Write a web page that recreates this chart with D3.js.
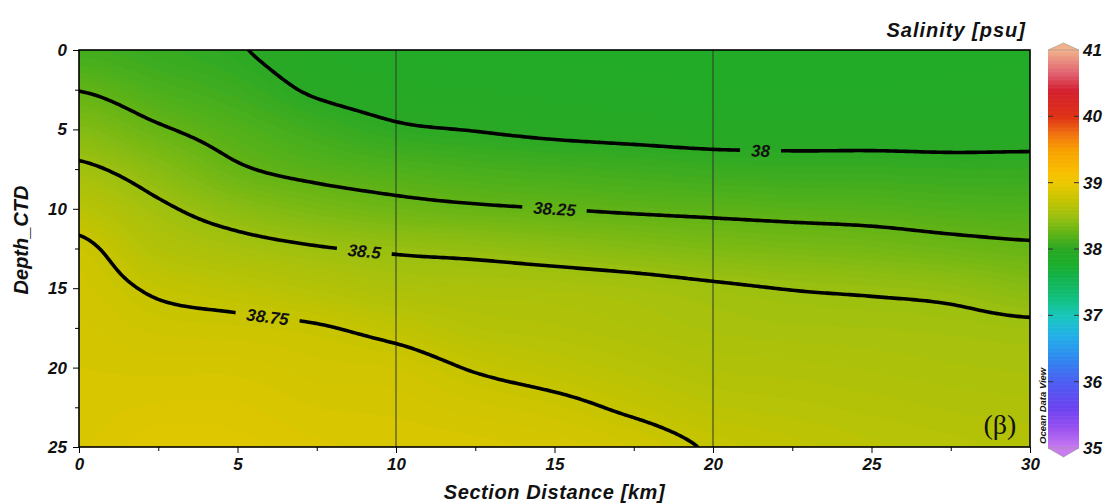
<!DOCTYPE html>
<html>
<head>
<meta charset="utf-8">
<title>Salinity section</title>
<script src="https://cdn.jsdelivr.net/npm/d3@7"></script>
<style>
  body { margin: 0; background: #fff; }
  svg text { font-family: "Liberation Sans", Arial, sans-serif; font-weight: bold; font-style: italic; fill: #111; }
</style>
</head>
<body>
<div id="chart"></div>
<script>
// gridded section: station distances (km) and depths (m)
var distances = [0, 2.5, 5, 7.5, 10, 12.5, 15, 17.5, 20, 22.5, 25, 27.5, 30];
var depths = [0, 2.5, 5, 7.5, 10, 12.5, 15, 17.5, 20, 22.5, 25];
// salinity [psu], one row per depth, one column per distance
var salinity = [
  [38.11, 38.06, 38.01, 37.93, 37.90, 37.88, 37.87, 37.86, 37.85, 37.85, 37.85, 37.86, 37.87],
  [38.245, 38.15, 38.08, 37.98, 37.94, 37.925, 37.91, 37.90, 37.88, 37.88, 37.88, 37.89, 37.90],
  [38.39, 38.27, 38.175, 38.09, 38.02, 37.995, 37.97, 37.955, 37.94, 37.94, 37.94, 37.94, 37.945],
  [38.53, 38.41, 38.27, 38.20, 38.16, 38.13, 38.11, 38.09, 38.07, 38.06, 38.06, 38.05, 38.05],
  [38.67, 38.53, 38.42, 38.35, 38.30, 38.27, 38.25, 38.23, 38.215, 38.20, 38.19, 38.17, 38.16],
  [38.78, 38.63, 38.56, 38.51, 38.48, 38.46, 38.43, 38.40, 38.37, 38.35, 38.33, 38.30, 38.275],
  [38.81, 38.73, 38.69, 38.64, 38.59, 38.58, 38.57, 38.55, 38.52, 38.495, 38.48, 38.46, 38.41],
  [38.83, 38.79, 38.78, 38.76, 38.71, 38.65, 38.63, 38.60, 38.57, 38.555, 38.55, 38.54, 38.525],
  [38.85, 38.84, 38.84, 38.81, 38.80, 38.74, 38.70, 38.66, 38.62, 38.61, 38.595, 38.58, 38.57],
  [38.86, 38.88, 38.88, 38.85, 38.84, 38.81, 38.78, 38.73, 38.68, 38.66, 38.64, 38.62, 38.61],
  [38.87, 38.92, 38.91, 38.88, 38.87, 38.86, 38.84, 38.80, 38.74, 38.71, 38.68, 38.66, 38.64]
];

var isoValues = [38, 38.25, 38.5, 38.75];
var isoLabelAt = [21.55, 15.0, 9.0, 5.93];   // distance where each label sits
var sectionMarks = [10, 20];
var xTicks = [0, 5, 10, 15, 20, 25, 30];
var yTicks = [0, 5, 10, 15, 20, 25];
var barTicks = [35, 36, 37, 38, 39, 40, 41];

// palette (ODV-like)
var palValues = [35, 35.3, 35.6, 36, 36.35, 36.7, 37, 37.25, 37.6, 37.8, 38, 38.25, 38.5, 38.75, 39, 39.15, 39.5, 39.75, 40, 40.4, 40.65, 41];
var palColors = ["#c97bf0", "#9a52f0", "#6c42f0", "#4c5ef2", "#3088f0", "#22b0e8", "#1ac8bc", "#12c080", "#14b248", "#1dad28", "#2aa825", "#62b416", "#9cc010", "#c6c400", "#ecc800", "#f8c000", "#f8a000", "#f07010", "#de3215", "#d42030", "#e06070", "#f2b08c"];
var color = d3.scaleLinear().domain(palValues).range(palColors).clamp(true);

var W = 1107, H = 503;
var x = d3.scaleLinear().domain([0, 30]).range([79, 1030]);
var y = d3.scaleLinear().domain([0, 25]).range([50, 447]);

var svg = d3.select("#chart").append("svg")
    .attr("width", W).attr("height", H)
    .style("display", "block");
var defs = svg.append("defs");
defs.append("clipPath").attr("id", "plotclip")
  .append("rect").attr("x", x(0)).attr("y", y(0))
  .attr("width", x(30) - x(0)).attr("height", y(25) - y(0));

// bicubic sampling of the station grid, only to draw a smooth field
var nc = distances.length, nr = depths.length;
var dStep = distances[1] - distances[0], zStep = depths[1] - depths[0];
function clamp(v, a, b) { return Math.max(a, Math.min(b, v)); }
function at(r, c) { return salinity[clamp(r, 0, nr - 1)][clamp(c, 0, nc - 1)]; }
function cubic(p0, p1, p2, p3, t) {
  return p1 + 0.5 * t * (p2 - p0 + t * (2 * p0 - 5 * p1 + 4 * p2 - p3 + t * (3 * (p1 - p2) + p3 - p0)));
}
function sample(d, z) {
  var fc = clamp(d / dStep, 0, nc - 1), fr = clamp(z / zStep, 0, nr - 1);
  var c = Math.min(Math.floor(fc), nc - 2), r = Math.min(Math.floor(fr), nr - 2);
  var tc = fc - c, tr = fr - r, rows = [];
  for (var k = -1; k <= 2; k++)
    rows.push(cubic(at(r + k, c - 1), at(r + k, c), at(r + k, c + 1), at(r + k, c + 2), tc));
  return cubic(rows[0], rows[1], rows[2], rows[3], tr);
}

var fs = 0.1, d0 = -0.6, z0 = -0.6;
var nx = Math.round((30 + 1.2) / fs) + 1, nz = Math.round((25 + 1.2) / fs) + 1;
var field = new Array(nx * nz);
for (var j = 0; j < nz; j++)
  for (var i = 0; i < nx; i++)
    field[j * nx + i] = sample(d0 + i * fs, z0 + j * fs);

var proj = d3.geoTransform({
  point: function(px, py) {
    this.stream.point(x(d0 + (px - 0.5) * fs), y(z0 + (py - 0.5) * fs));
  }
});
var path = d3.geoPath(proj);

// filled field
var step = 0.025;
var fillLevels = d3.range(37.8, 39.1, step);
var fills = d3.contours().size([nx, nz]).thresholds(fillLevels)(field);
svg.append("g").attr("clip-path", "url(#plotclip)")
  .selectAll("path").data(fills).join("path")
  .attr("d", path)
  .attr("fill", function(d) { return color(d.value + step / 2); })
  .attr("stroke", function(d) { return color(d.value + step / 2); })
  .attr("stroke-width", 0.6);

// section marks
svg.append("g").selectAll("line").data(sectionMarks).join("line")
  .attr("x1", function(d) { return x(d); }).attr("x2", function(d) { return x(d); })
  .attr("y1", y(0)).attr("y2", y(25))
  .attr("stroke", "#2c3a2c").attr("stroke-width", 1);

// isolines
var isos = d3.contours().size([nx, nz]).thresholds(isoValues)(field);
var mask = defs.append("mask").attr("id", "gapmask").attr("maskUnits", "userSpaceOnUse")
  .attr("x", 0).attr("y", 0).attr("width", W).attr("height", H);
mask.append("rect").attr("width", W).attr("height", H).attr("fill", "white");

var lineG = svg.append("g").attr("clip-path", "url(#plotclip)")
  .append("g").attr("mask", "url(#gapmask)");
lineG.selectAll("path").data(isos).join("path")
  .attr("d", path)
  .attr("fill", "none").attr("stroke", "#000")
  .attr("stroke-width", 3.6).attr("stroke-linejoin", "round");

var labelG = svg.append("g");
isos.forEach(function(iso, k) {
  var tx = x(isoLabelAt[k]), best = null;
  iso.coordinates.forEach(function(poly) {
    poly.forEach(function(ring) {
      var pts = ring.map(function(p) {
        return [x(d0 + (p[0] - 0.5) * fs), y(z0 + (p[1] - 0.5) * fs)];
      });
      pts.forEach(function(p, n) {
        if (p[0] < x(0) + 4 || p[0] > x(30) - 4 || p[1] < y(0) + 4 || p[1] > y(25) - 4) return;
        var dist = Math.abs(p[0] - tx);
        if (!best || dist < best.dist) best = { dist: dist, pts: pts, n: n };
      });
    });
  });
  if (!best) return;
  var L = best.pts.length;
  var pa = best.pts[(best.n - 6 + L) % L], pb = best.pts[(best.n + 6) % L], p = best.pts[best.n];
  var ang = Math.atan2(pb[1] - pa[1], pb[0] - pa[0]) * 180 / Math.PI;
  if (ang > 90) ang -= 180;
  if (ang < -90) ang += 180;
  var t = labelG.append("text")
    .attr("transform", "translate(" + p[0] + "," + p[1] + ") rotate(" + ang + ")")
    .attr("text-anchor", "middle").attr("dy", "0.36em")
    .style("font-size", "17px")
    .text(String(isoValues[k]));
  var w = t.node().getComputedTextLength();
  mask.append("rect")
    .attr("x", -w / 2 - 11).attr("y", -10).attr("width", w + 22).attr("height", 20)
    .attr("transform", "translate(" + p[0] + "," + p[1] + ") rotate(" + ang + ")")
    .attr("fill", "black");
});

// frame
svg.append("rect").attr("x", x(0)).attr("y", y(0))
  .attr("width", x(30) - x(0)).attr("height", y(25) - y(0))
  .attr("fill", "none").attr("stroke", "#000").attr("stroke-width", 1.6);

// axes
svg.append("g").attr("transform", "translate(0," + y(25) + ")")
  .call(d3.axisBottom(x).tickValues(xTicks).tickSize(6).tickPadding(5).tickFormat(d3.format("d")));
svg.append("g").attr("transform", "translate(0," + y(25) + ")")
  .call(d3.axisBottom(x).tickValues(d3.range(2.5, 30, 5)).tickSize(4).tickFormat(""));
svg.append("g").attr("transform", "translate(" + x(0) + ",0)")
  .call(d3.axisLeft(y).tickValues(yTicks).tickSize(6).tickPadding(6).tickFormat(d3.format("d")));
svg.append("g").attr("transform", "translate(" + x(0) + ",0)")
  .call(d3.axisLeft(y).tickValues(d3.range(2.5, 25, 5)).tickSize(4).tickFormat(""));
svg.selectAll(".domain").remove();
svg.selectAll(".tick line").attr("stroke", "#000").attr("stroke-width", 1);
svg.selectAll(".tick text").style("font-size", "17px").attr("fill", "#111")
  .style("font-family", "'Liberation Sans', Arial, sans-serif")
  .style("font-weight", "bold").style("font-style", "italic");

svg.append("text").attr("x", (x(0) + x(30)) / 2).attr("y", 499)
  .attr("text-anchor", "middle").style("font-size", "20px").style("letter-spacing", "0.6px")
  .text("Section Distance [km]");
svg.append("text").attr("transform", "translate(28,240) rotate(-90)")
  .attr("text-anchor", "middle").style("font-size", "20px")
  .text("Depth_CTD");

// colour bar
var cb = d3.scaleLinear().domain([35, 41]).range([448, 50]);
var cbX0 = 1048, cbX1 = 1079;
var cbG = svg.append("g");
cbG.selectAll("rect").data(d3.range(35, 41, 0.02)).join("rect")
  .attr("x", cbX0).attr("width", cbX1 - cbX0)
  .attr("y", function(d) { return cb(d + 0.02); })
  .attr("height", function(d) { return cb(d) - cb(d + 0.02) + 0.6; })
  .attr("fill", function(d) { return color(d + 0.01); });
cbG.append("path")
  .attr("d", "M" + cbX0 + "," + cb(41) + "L" + (cbX0 + cbX1) / 2 + "," + (cb(41) - 7) + "L" + cbX1 + "," + cb(41) + "Z")
  .attr("fill", color(41)).attr("stroke", "#999").attr("stroke-width", 0.6);
cbG.append("path")
  .attr("d", "M" + cbX0 + "," + cb(35) + "L" + (cbX0 + cbX1) / 2 + "," + (cb(35) + 9) + "L" + cbX1 + "," + cb(35) + "Z")
  .attr("fill", color(35)).attr("stroke", "#999").attr("stroke-width", 0.6);
cbG.selectAll("line.tl").data(barTicks.slice(1, -1)).join("line").attr("class", "tl")
  .attr("x1", cbX0).attr("x2", cbX0 + 5)
  .attr("y1", function(d) { return cb(d); }).attr("y2", function(d) { return cb(d); })
  .attr("stroke", "#333");
cbG.selectAll("line.tr").data(barTicks.slice(1, -1)).join("line").attr("class", "tr")
  .attr("x1", cbX1 - 5).attr("x2", cbX1)
  .attr("y1", function(d) { return cb(d); }).attr("y2", function(d) { return cb(d); })
  .attr("stroke", "#333");
cbG.selectAll("text").data(barTicks).join("text")
  .attr("x", 1083).attr("y", function(d) { return cb(d); })
  .attr("dy", "0.36em").style("font-size", "17px")
  .text(function(d) { return d; });

svg.append("text").attr("x", 1026).attr("y", 37)
  .attr("text-anchor", "end").style("font-size", "20px").style("letter-spacing", "1px")
  .text("Salinity [psu]");

svg.append("text").attr("transform", "translate(1046,444) rotate(-90)")
  .style("font-size", "9.5px")
  .text("Ocean Data View");

svg.append("text").attr("x", 1000).attr("y", 434)
  .attr("text-anchor", "middle")
  .style("font-family", "'Liberation Serif', 'Times New Roman', serif")
  .style("font-style", "normal").style("font-weight", "normal")
  .style("font-size", "28px")
  .text("(β)");
</script>
</body>
</html>
